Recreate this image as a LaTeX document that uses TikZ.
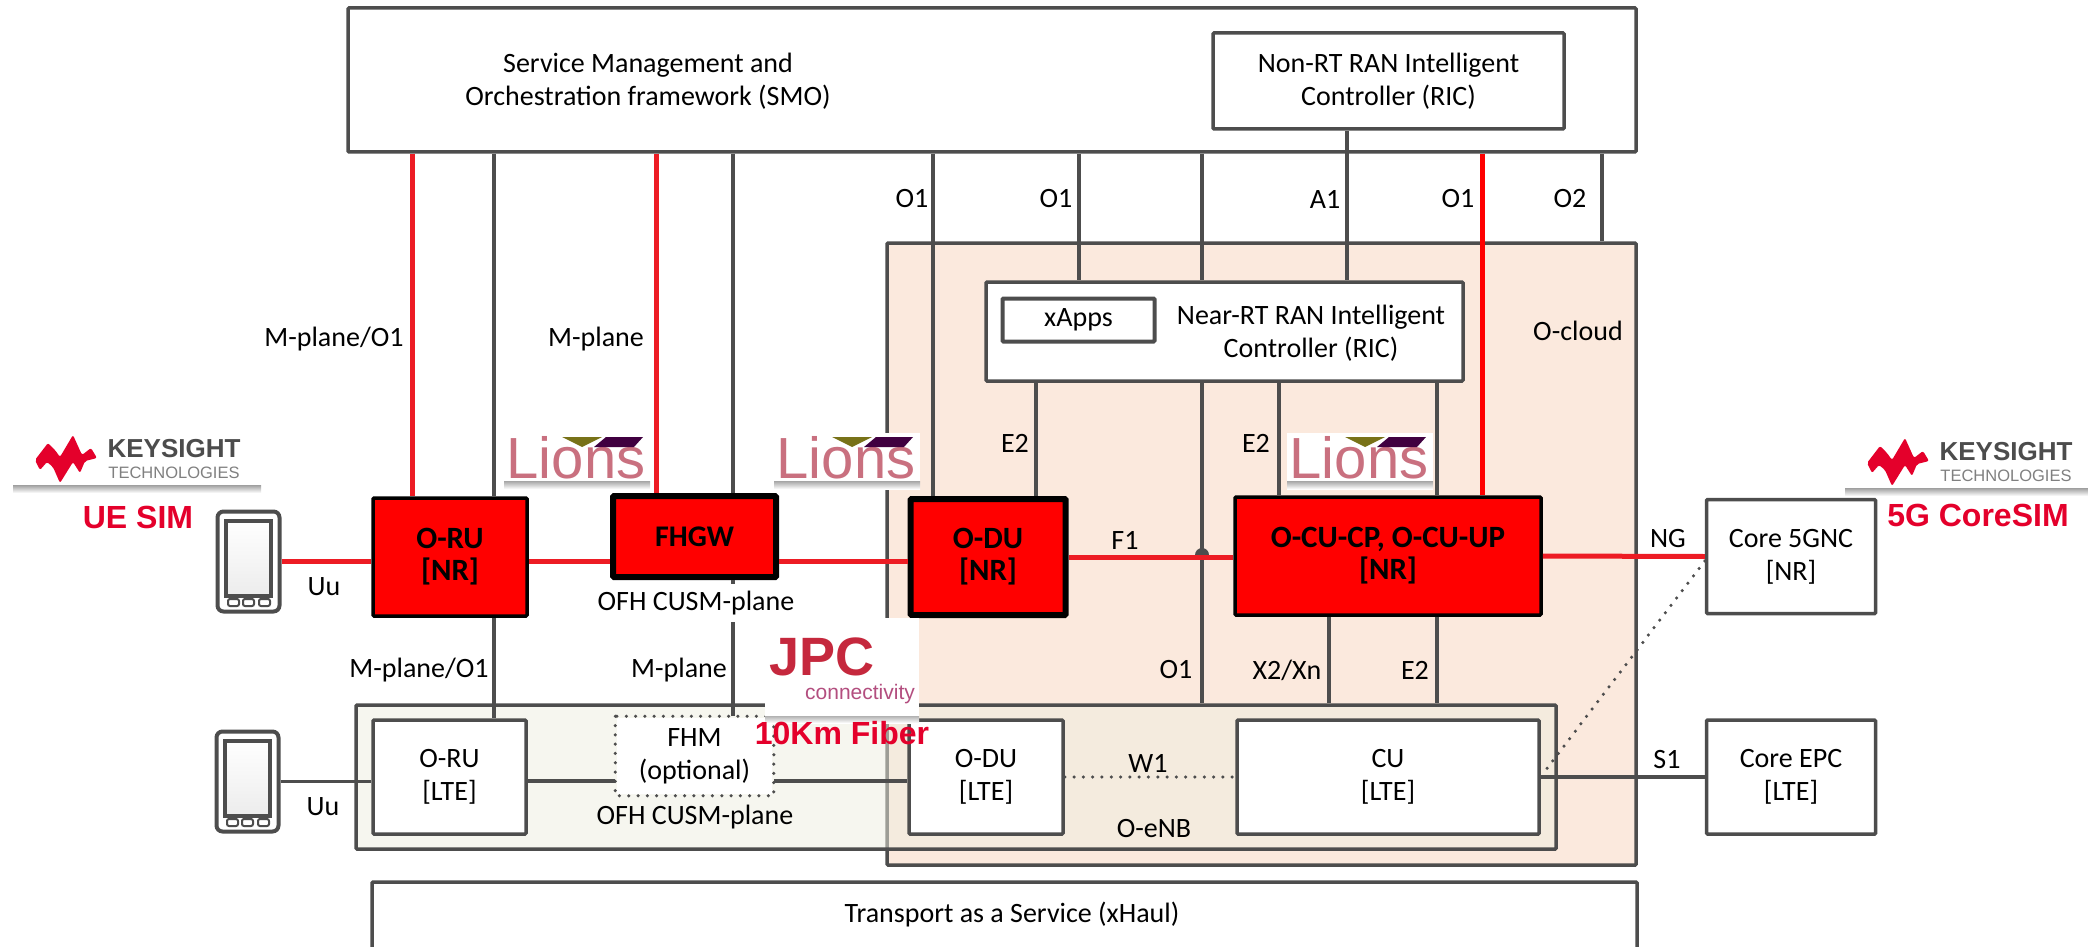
\documentclass[tikz,border=0pt]{standalone}
\usepackage{xcolor}
\usepackage{fontspec}
\setmainfont{Carlito}
\newfontfamily\arialfont{Liberation Sans}
\usetikzlibrary{positioning}

\definecolor{linegray}{HTML}{4D4D4D}
\definecolor{linkred}{HTML}{ED1C24}
\definecolor{boxred}{HTML}{FF0000}
\definecolor{cloudfill}{HTML}{FBE9DD}
\definecolor{enbfill}{HTML}{EEEEE0}
\definecolor{simred}{HTML}{E4002B}
\definecolor{jpcred}{HTML}{C5283D}
\definecolor{lionspink}{HTML}{C9707F}

\tikzset{
  every node/.style={font=\fontsize{28}{33}\selectfont, align=center},
  graybox/.style={draw=linegray, line width=3.5, rounded corners=1, fill=white, inner sep=0},
  redbox/.style={graybox, draw=black, fill=boxred, font=\fontsize{31}{32}\selectfont\bfseries},
  fatbox/.style={redbox, line width=6},
  grayline/.style={draw=linegray, line width=3.5},
  redline/.style={draw=linkred, line width=5},
  dotline/.style={draw=linegray, line width=3.5, line cap=round, dash pattern=on 0pt off 9.3pt},
  simlabel/.style={font=\fontsize{32}{32}\selectfont\arialfont\bfseries, text=simred},
  keysight/.pic={
    \fill[top color=gray!75, bottom color=white] (0,55) rectangle (248,63);
    \fill[white] (0,0) rectangle (248,55);
    \fill[simred, rounded corners=2] (22,30) -- (35,13) -- (42,20) -- (47,27) -- (60,5) -- (69,25) -- (78,18) -- (84,28) -- (72,31) -- (67,43) -- (60,32) -- (47,53) -- (40,37) -- (34,32) -- (27,40) -- cycle;
    \node[font=\fontsize{26}{26}\selectfont\arialfont\bfseries, text=gray!60!black] (word) at (161,19) {KEYSIGHT};
    \node[font=\fontsize{16.5}{17}\selectfont\arialfont, text=gray] (sub) at (161,43) {TECHNOLOGIES};
  },
  lions/.pic={
    \fill[top color=gray!70, bottom color=white] (0,48) rectangle (146,56);
    \fill[white] (0,0) rectangle (146,48);
    \node[font=\fontsize{58}{58}\selectfont\arialfont, text=lionspink] (word) at (72,25) {Lions};
    \fill[olive!80!black] (58,4) -- (98,4) -- (78,14) -- cycle;
    \fill[violet!50!black] (90,14) -- (130,14) -- (139,4) -- (102,4) -- cycle;
  },
  phone/.pic={
    \node[graybox, line width=4, rounded corners=6, minimum width=62, minimum height=100] (body) at (32.5,51.5) {};
    \draw[line width=4, linegray, top color=white, bottom color=gray!15] (10,11) rectangle (55,86);
    \draw[line width=2, linegray, rounded corners=2] (12,89) rectangle (23,96);
    \draw[line width=2, linegray, rounded corners=2] (27,89) rectangle (38,96);
    \draw[line width=2, linegray, rounded corners=2] (43,89) rectangle (54,96);
  }
}

\begin{document}
\begin{tikzpicture}[x=1pt, y=-1pt]
  \useasboundingbox (0,0) rectangle (2088,947);
  \clip (0,0) rectangle (2088,947);

  % big areas
  \node[graybox, fill=cloudfill, minimum width=749, minimum height=622] (ocloud) at (1261.5,554) {};
  \node[graybox, fill=enbfill, fill opacity=0.5, minimum width=1200, minimum height=144] (oenb) at (956,777) {};
  \node[graybox, minimum width=1288, minimum height=144] (smo) at (992,80) {};
  \node[graybox, minimum width=1265, minimum height=100] (xhaul) at (1004.5,932) {};

  % boxes
  \node[graybox, minimum width=351, minimum height=96] (nonrt) at (1388.5,81) {Non-RT RAN Intelligent\\Controller (RIC)};
  \node[graybox, minimum width=477, minimum height=99] (nearric) at (1224.5,331.5) {};
  \node[graybox, line width=4, minimum width=152, minimum height=43] (xapps) at (1078.5,320) {xApps};
  \node[redbox, minimum width=154, minimum height=118] (orunr) at (450,557) {O-RU\\{[NR]}};
  \node[fatbox, font=\fontsize{30}{32}\selectfont\bfseries, minimum width=163, minimum height=81] (fhgw) at (694.5,536.5) {FHGW};
  \node[fatbox, minimum width=155, minimum height=116] (odunr) at (988,557) {O-DU\\{[NR]}};
  \node[redbox, minimum width=306, minimum height=118] (ocu) at (1388,556) {O-CU-CP, O-CU-UP\\{[NR]}};
  \node[graybox, minimum width=169, minimum height=114] (coregnc) at (1791,556.5) {Core 5GNC\\{[NR]}};
  \node[graybox, minimum width=153, minimum height=114] (orulte) at (449.5,777) {O-RU\\{[LTE]}};
  \node[graybox, draw=none, minimum width=155, minimum height=76] (fhm) at (694.5,756) {FHM\\(optional)};
  \node[graybox, minimum width=154, minimum height=114] (odulte) at (986,777) {O-DU\\{[LTE]}};
  \node[graybox, minimum width=302, minimum height=114] (culte) at (1388,777) {CU\\{[LTE]}};
  \node[graybox, minimum width=169, minimum height=114] (coreepc) at (1791,777) {Core EPC\\{[LTE]}};
  \draw[dotline] (fhm.north west) rectangle (fhm.south east);

  \pic (uea) at (216,510) {phone};
  \pic (ueb) at (215,730) {phone};

  % x and y of the links
  \coordinate (xrua) at (412,0);
  \coordinate (xrub) at (494,0);
  \coordinate (xgwa) at (656,0);
  \coordinate (xgwb) at (733,0);
  \coordinate (xdua) at (933,0);
  \coordinate (xdub) at (1036,0);
  \coordinate (xrica) at (1079,0);
  \coordinate (xricb) at (1202,0);
  \coordinate (xcua) at (1279,0);
  \coordinate (xcub) at (1329,0);
  \coordinate (xa) at (1347,0);
  \coordinate (xcuc) at (1437,0);
  \coordinate (xcud) at (1482,0);
  \coordinate (xo) at (1602,0);
  \coordinate (yfh) at (0,561);
  \coordinate (yf) at (0,557);
  \coordinate (yof) at (0,781);
  \coordinate (yw) at (0,777);

  \draw[redline] (smo.south -| xrua) -- (orunr.north -| xrua);
  \draw[grayline] (smo.south -| xrub) -- (orunr.north -| xrub);
  \draw[grayline] (orunr.south -| xrub) -- (orulte.north -| xrub);
  \draw[redline] (smo.south -| xgwa) -- (fhgw.north -| xgwa);
  \draw[grayline] (smo.south -| xgwb) -- (fhgw.north -| xgwb);
  \draw[grayline] (fhgw.south -| xgwb) -- (fhm.north -| xgwb);
  \draw[grayline] (smo.south -| xdua) -- (odunr.north -| xdua);
  \draw[grayline] (nearric.south -| xdub) -- (odunr.north -| xdub);
  \draw[grayline] (smo.south -| xrica) -- (nearric.north -| xrica);
  \draw[grayline] (smo.south -| xricb) -- (nearric.north -| xricb);
  \draw[grayline] (nonrt.south -| xa) -- (nearric.north -| xa);
  \draw[grayline] (nearric.south -| xricb) -- (oenb.north -| xricb);
  \draw[grayline] (nearric.south -| xcua) -- (ocu.north -| xcua);
  \draw[grayline] (nearric.south -| xcuc) -- (ocu.north -| xcuc);
  \draw[grayline] (ocu.south -| xcub) -- (oenb.north -| xcub);
  \draw[grayline] (ocu.south -| xcuc) -- (oenb.north -| xcuc);
  \draw[redline, draw=boxred] (smo.south -| xcud) -- (ocu.north -| xcud);
  \draw[grayline] (smo.south -| xo) -- (ocloud.north -| xo);
  \fill[linegray] (1195,555) arc (180:360:7);

  \draw[redline] (ueabody.east) -- (ueabody.east -| orunr.west);
  \draw[redline] (orunr.east |- yfh) -- (fhgw.west |- yfh);
  \draw[redline] (fhgw.east |- yfh) -- (odunr.west |- yfh);
  \draw[redline] (odunr.east |- yf) -- (ocu.west |- yf);
  \draw[redline] (ocu.east) -- (coregnc.west);
  \draw[grayline] (uebbody.east) -- (uebbody.east -| orulte.west);
  \draw[grayline] (orulte.east |- yof) -- (fhm.west |- yof);
  \draw[grayline] (fhm.east |- yof) -- (odulte.west |- yof);
  \draw[dotline] (odulte.east |- yw) -- (culte.west |- yw);
  \draw[grayline] (culte.east |- yw) -- (coreepc.west |- yw);
  \coordinate (dotend) at (1545,771);
  \draw[dotline] (coregnc.west |- yfh) -- (dotend);

  % labels
  \node (smotext) at (648,81) {Service Management and\\Orchestration framework (SMO)};
  \node (nearrictext) at (1311,333) {Near-RT RAN Intelligent\\Controller (RIC)};
  \node (xhaultext) at (1012,915) {Transport as a Service (xHaul)};
  \node (cloudtext) at (1578,331) {O-cloud};
  \node (enbtext) at (1154,829) {O-eNB};
  \node (lmpa) at (334,339) {M-plane/O1};
  \node (lmpb) at (596,339) {M-plane};
  \node (lmpc) at (419,670) {M-plane/O1};
  \node (lmpd) at (679,670) {M-plane};
  \node[fill=white, inner sep=0, minimum height=38] (lofa) at (696,603) {OFH CUSM-plane};
  \node (lofb) at (695,817) {OFH CUSM-plane};
  \node (luua) at (324,587) {Uu};
  \node (luub) at (323,807) {Uu};
  \node (lo1a) at (912,199) {O1};
  \node (lo1b) at (1056,199) {O1};
  \node (la1) at (1325,199) {A1};
  \node (lo1c) at (1458,199) {O1};
  \node (lo2) at (1570,199) {O2};
  \node (le2a) at (1015,443) {E2};
  \node (le2b) at (1256,443) {E2};
  \node (le2c) at (1415,670) {E2};
  \node (lf1) at (1125,540) {F1};
  \node (lng) at (1668,539) {NG};
  \node (ls1) at (1667,760) {S1};
  \node (lw1) at (1148,763) {W1};
  \node (lo1d) at (1176,670) {O1};
  \node (lx2) at (1287,670) {X2/Xn};

  % logos on top
  \pic (ksa) at (13,430) {keysight};
  \pic (ksb) at (1845,433) {keysight};
  \pic (lia) at (504,433) {lions};
  \pic (lib) at (774,433) {lions};
  \pic (lic) at (1287,433) {lions};
  \fill[top color=gray!60, bottom color=white] (765,716) rectangle (919,723);
  \node[fill=white, minimum width=154, minimum height=98, inner sep=0] (jpcbox) at (842,667) {};
  \node[font=\fontsize{54}{54}\selectfont\arialfont\bfseries, text=jpcred, inner sep=0] (jpc) at (822,657) {JPC};
  \node[font=\fontsize{21}{21}\selectfont\arialfont, text=lionspink!70!violet, inner sep=0] (connect) at (860,694) {connectivity};
  \node[simlabel] (fiber) at (842,733) {10Km Fiber};
  \node[simlabel] (uesim) at (138,517) {UE SIM};
  \node[simlabel] (coresim) at (1978,515) {5G CoreSIM};
\end{tikzpicture}
\end{document}
